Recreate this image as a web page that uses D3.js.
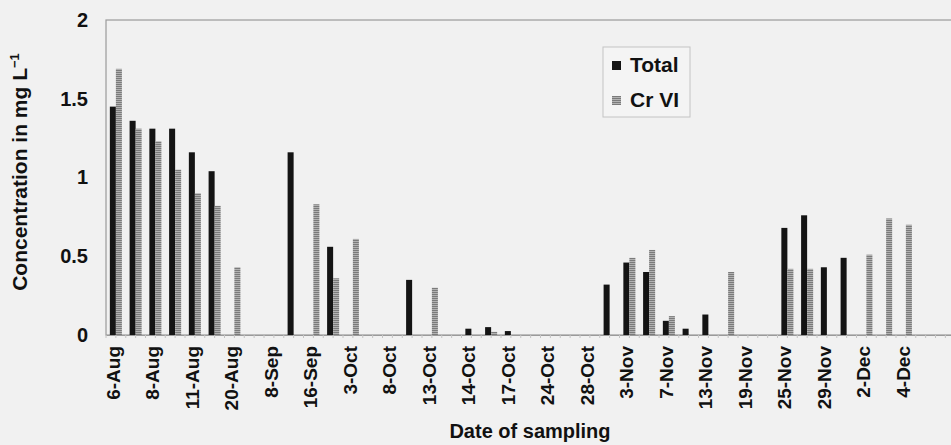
<!DOCTYPE html>
<html>
<head>
<meta charset="utf-8">
<script src="https://cdn.jsdelivr.net/npm/d3@7"></script>
<style>
  body { margin: 0; background: #f1f1f1; }
  svg { display: block; font-family: "Liberation Sans", Arial, sans-serif; font-weight: bold; }
</style>
</head>
<body>
<div id="chart"></div>
<script>
// sampling dates, only every second one carries a label on the axis
var dateLabels = ["6-Aug", "8-Aug", "11-Aug", "20-Aug", "8-Sep", "16-Sep", "3-Oct", "8-Oct",
  "13-Oct", "14-Oct", "17-Oct", "24-Oct", "28-Oct", "3-Nov", "7-Nov", "13-Nov", "19-Nov",
  "25-Nov", "29-Nov", "2-Dec", "4-Dec"];

// concentration in mg/L, one value per sampling slot
var totalCr = [1.45, 1.36, 1.31, 1.31, 1.16, 1.04, 0, 0, 0, 1.16, 0, 0.56, 0, 0, 0, 0.35, 0, 0,
  0.04, 0.05, 0.025, 0, 0, 0, 0, 0.32, 0.46, 0.40, 0.09, 0.04, 0.13, 0, 0, 0, 0.68, 0.76, 0.43,
  0.49, 0, 0, 0, 0, 0];
var crVI = [1.69, 1.31, 1.23, 1.05, 0.90, 0.82, 0.43, 0, 0, 0, 0.83, 0.36, 0.61, 0, 0, 0, 0.30, 0,
  0, 0.02, 0, 0, 0, 0, 0, 0, 0.49, 0.54, 0.12, 0, 0, 0.40, 0, 0, 0.42, 0.42, 0, 0, 0.51, 0.74,
  0.70, 0, 0];

var yTicks = [0, 0.5, 1, 1.5, 2];
var seriesNames = ["Total", "Cr VI"];

function drawChart() {
  var width = 951, height = 445;
  var margin = {left: 106, top: 20},
      baseY = 335, step = 19.75;

  var svg = d3.select("#chart")
    .append("svg")
      .attr("width", width)
      .attr("height", height);

  // horizontal hatch for the Cr VI bars
  var pat = svg.append("defs").append("pattern")
    .attr("id", "hatch")
    .attr("patternUnits", "userSpaceOnUse")
    .attr("width", 4).attr("height", 2);
  pat.append("rect").attr("width", 4).attr("height", 2).attr("fill", "#b2b2b2");
  pat.append("rect").attr("width", 4).attr("height", 1).attr("fill", "#7a7a7a");

  var slots = d3.range(totalCr.length);

  var x = d3.scaleBand()
    .domain(slots)
    .range([margin.left, margin.left + slots.length * step])
    .paddingInner(0.39)
    .paddingOuter(0.195);

  var xSub = d3.scaleBand()
    .domain(seriesNames)
    .range([0, x.bandwidth()]);

  var y = d3.scaleLinear()
    .domain([0, 2])
    .range([baseY, margin.top]);

  // plot frame
  svg.append("rect")
    .attr("x", margin.left)
    .attr("y", margin.top)
    .attr("width", slots.length * step)
    .attr("height", baseY - margin.top)
    .attr("fill", "none")
    .attr("stroke", "#9a9a9a")
    .attr("stroke-width", 1.2);

  // y axis labels, no ticks
  var yAxis = svg.append("g")
    .attr("transform", "translate(" + margin.left + ",0)")
    .call(d3.axisLeft(y).tickValues(yTicks).tickSize(0).tickPadding(18).tickFormat(d3.format("")));
  yAxis.select(".domain").remove();
  yAxis.selectAll("text")
    .attr("font-size", "20px")
    .attr("font-family", "Liberation Sans, Arial, sans-serif")
    .attr("font-weight", "bold")
    .attr("fill", "#111");

  // bars
  var groups = svg.selectAll(".slot")
    .data(slots)
    .enter()
    .append("g")
    .attr("transform", function(i) { return "translate(" + x(i) + ",0)"; });

  groups.append("rect")
    .attr("x", xSub("Total"))
    .attr("y", function(i) { return y(totalCr[i]); })
    .attr("width", xSub.bandwidth())
    .attr("height", function(i) { return baseY - y(totalCr[i]); })
    .attr("fill", "#141414");

  groups.append("rect")
    .attr("x", xSub("Cr VI"))
    .attr("y", function(i) { return y(crVI[i]); })
    .attr("width", xSub.bandwidth())
    .attr("height", function(i) { return baseY - y(crVI[i]); })
    .attr("fill", "url(#hatch)");

  // x axis
  var xAxis = svg.append("g")
    .attr("transform", "translate(0," + baseY + ")")
    .call(d3.axisBottom(x)
      .tickSize(0)
      .tickFormat(function(i) { return i % 2 === 0 && dateLabels[i / 2] ? dateLabels[i / 2] : ""; }));
  xAxis.select(".domain").attr("stroke", "#9a9a9a").attr("stroke-width", 1.2);
  xAxis.selectAll("text")
    .attr("font-size", "19px")
    .attr("font-family", "Liberation Sans, Arial, sans-serif")
    .attr("font-weight", "bold")
    .attr("fill", "#111")
    .attr("text-anchor", "end")
    .attr("transform", "translate(-3,11) rotate(-90)")
    .attr("x", 0)
    .attr("y", 0)
    .attr("dy", "0.35em");

  // small minor ticks under the axis
  svg.append("g")
    .selectAll("line")
    .data(d3.range(slots.length * 2 + 1))
    .enter()
    .append("line")
    .attr("x1", function(d) { return margin.left + d * step / 2; })
    .attr("x2", function(d) { return margin.left + d * step / 2; })
    .attr("y1", baseY)
    .attr("y2", baseY + 3)
    .attr("stroke", "#c4c4c4");

  // axis titles
  svg.append("text")
    .attr("transform", "translate(27,172) rotate(-90)")
    .attr("text-anchor", "middle")
    .attr("font-size", "21px")
    .attr("fill", "#111")
    .text("Concentration in mg L")
    .append("tspan")
    .attr("dy", "-0.6em")
    .attr("font-size", "13px")
    .text("\u22121");

  svg.append("text")
    .attr("x", 530)
    .attr("y", 438)
    .attr("text-anchor", "middle")
    .attr("font-size", "20px")
    .attr("fill", "#111")
    .text("Date of sampling");

  // legend
  var legend = svg.append("g").attr("transform", "translate(603,47)");
  legend.append("rect")
    .attr("width", 87).attr("height", 70)
    .attr("fill", "#f4f4f4")
    .attr("stroke", "#c4c4c4");
  var items = legend.selectAll(".item")
    .data(seriesNames)
    .enter()
    .append("g")
    .attr("transform", function(d, i) { return "translate(9," + (14 + i * 35) + ")"; });
  items.append("rect")
    .attr("width", 9).attr("height", 9)
    .attr("fill", function(d) { return d === "Total" ? "#141414" : "url(#hatch)"; });
  items.append("text")
    .attr("x", 18)
    .attr("y", 11)
    .attr("font-size", "21px")
    .attr("fill", "#111")
    .text(function(d) { return d; });
}

drawChart();
</script>
</body>
</html>
